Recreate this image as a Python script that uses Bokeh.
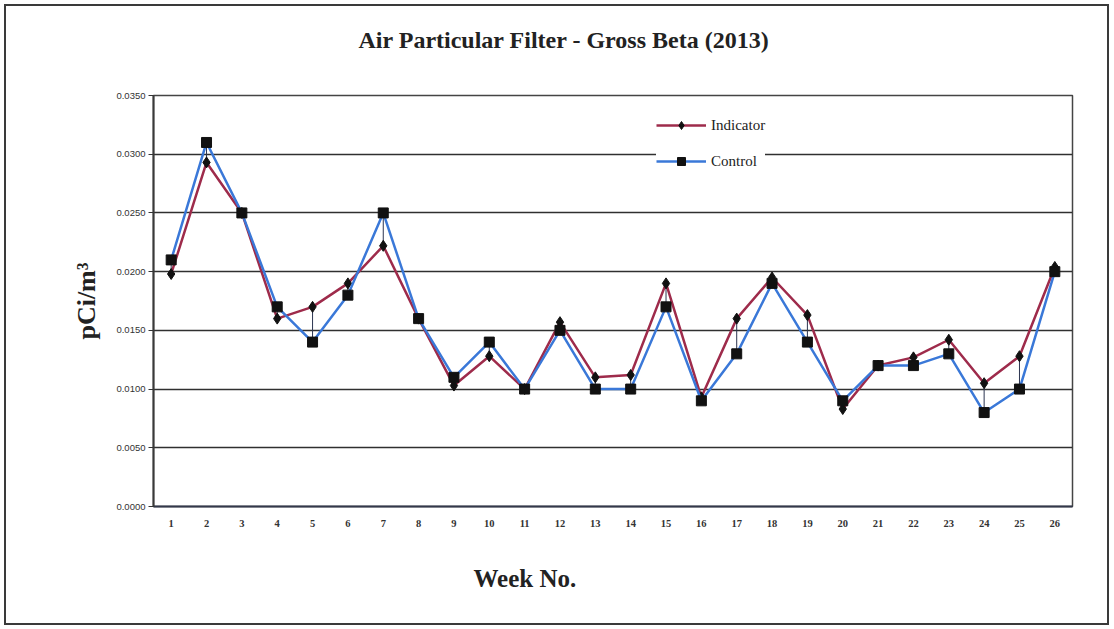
from bokeh.plotting import figure
from bokeh.models import Title, FixedTicker, Range1d, CustomJSTickFormatter
from bokeh.embed import file_html
from bokeh.resources import INLINE

weeks = list(range(1, 27))
indicator = [0.0198, 0.0293, 0.0250, 0.0160, 0.0170, 0.0190, 0.0222, 0.0160, 0.0103, 0.0128,
             0.0100, 0.0157, 0.0110, 0.0112, 0.0190, 0.0093, 0.0160, 0.0195, 0.0163, 0.0083,
             0.0120, 0.0127, 0.0142, 0.0105, 0.0128, 0.0204]
control = [0.0210, 0.0310, 0.0250, 0.0170, 0.0140, 0.0180, 0.0250, 0.0160, 0.0110, 0.0140,
           0.0100, 0.0150, 0.0100, 0.0100, 0.0170, 0.0090, 0.0130, 0.0190, 0.0140, 0.0090,
           0.0120, 0.0120, 0.0130, 0.0080, 0.0100, 0.0200]
y_ticks = [0.0, 0.005, 0.010, 0.015, 0.020, 0.025, 0.030, 0.035]

p = figure(width=1105, height=621, output_backend="svg", toolbar_location=None,
           x_range=Range1d(0.5, 26.5), y_range=Range1d(0, 0.035),
           min_border_left=147, min_border_right=39, min_border_top=89, min_border_bottom=121)
p.title = None
p.styles = {"border": "2px solid #3a3a3a", "margin-left": "4px", "margin-top": "4px"}
p.background_fill_color = "white"
p.border_fill_color = "white"
p.outline_line_color = "#444444"
p.outline_line_width = 1.5

# spacer between plot frame and title, then the title itself
p.add_layout(Title(text=" ", text_font_size="1px", standoff=40), "above")
p.add_layout(Title(text="Air Particular Filter - Gross Beta (2013)", align="left", offset=205,
                   standoff=0, text_font="Liberation Serif", text_font_style="bold",
                   text_font_size="24px", text_color="#222222"), "above")

# grid
p.xgrid.grid_line_color = None
p.ygrid.ticker = FixedTicker(ticks=y_ticks)
p.ygrid.grid_line_color = "#303030"
p.ygrid.grid_line_width = 1.6

# axes
p.xaxis.ticker = FixedTicker(ticks=weeks)
p.xaxis.major_tick_line_color = None
p.xaxis.minor_tick_line_color = None
p.xaxis.axis_line_color = "#33384a"
p.xaxis.axis_line_width = 2
p.xaxis.major_label_text_font = "Liberation Serif"
p.xaxis.major_label_text_font_size = "10.5px"
p.xaxis.major_label_text_font_style = "bold"
p.xaxis.major_label_text_color = "#333333"
p.xaxis.major_label_standoff = 7

p.yaxis.ticker = FixedTicker(ticks=y_ticks)
p.yaxis.formatter = CustomJSTickFormatter(code="return tick.toFixed(4);")
p.yaxis.minor_tick_line_color = None
p.yaxis.major_tick_in = 0
p.yaxis.major_tick_out = 5
p.yaxis.major_tick_line_color = "#333333"
p.yaxis.axis_line_color = "#3a3a3a"
p.yaxis.axis_line_width = 2
p.yaxis.major_label_text_font = "Liberation Sans"
p.yaxis.major_label_text_font_size = "9.5px"
p.yaxis.major_label_text_color = "#333333"
p.yaxis.major_label_standoff = 3
p.yaxis.axis_label = "pCi/m³"
p.yaxis.axis_label_text_font = "Liberation Serif"
p.yaxis.axis_label_text_font_style = "bold"
p.yaxis.axis_label_text_font_size = "26px"
p.yaxis.axis_label_text_color = "#222222"
p.yaxis.axis_label_standoff = 12

# x-axis caption
p.add_layout(Title(text="Week No.", align="left", offset=320, standoff=66,
                   text_font="Liberation Serif", text_font_style="bold",
                   text_font_size="25px", text_color="#222222"), "below")

# high-low lines
p.segment(x0=weeks, y0=indicator, x1=weeks, y1=control, line_color="#2c3550", line_width=1)

# series
p.line(weeks, indicator, line_color="#9e2b4b", line_width=2.5, legend_label="Indicator")
p.scatter(weeks, indicator, marker="diamond", size=11, fill_color="#111111", line_color="#111111",
          legend_label="Indicator")
p.line(weeks, control, line_color="#3a78d8", line_width=2.5, legend_label="Control")
p.scatter(weeks, control, marker="square", size=10, fill_color="#111111", line_color="#111111",
          legend_label="Control")

lg = p.legend[0]
lg.location = (503, 335)
lg.background_fill_color = "white"
lg.background_fill_alpha = 1.0
lg.border_line_color = None
lg.padding = 10
lg.margin = 0
lg.spacing = 16
lg.label_height = 20
lg.glyph_height = 20
lg.glyph_width = 50
lg.label_standoff = 5
lg.label_text_font = "Liberation Serif"
lg.label_text_font_size = "15px"
lg.label_text_color = "#222222"

open("out.html", "w").write(file_html(p, INLINE))
